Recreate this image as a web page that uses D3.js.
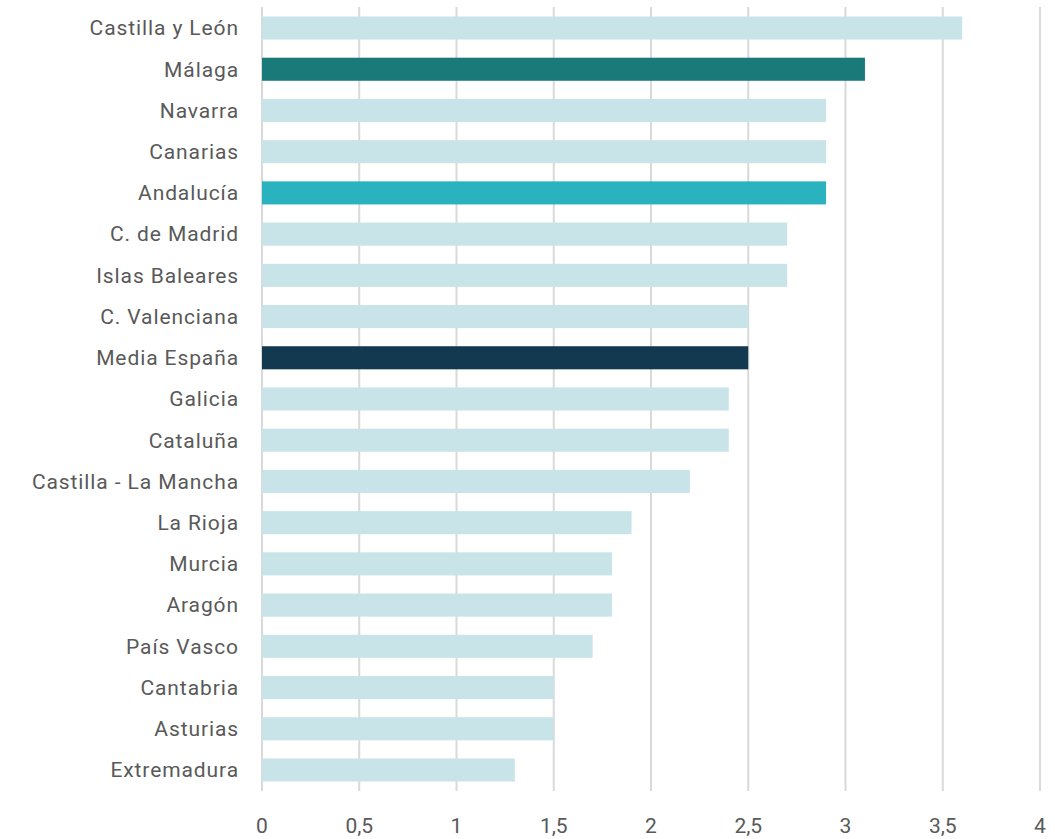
<!DOCTYPE html>
<html><head><meta charset="utf-8">
<script src="https://cdn.jsdelivr.net/npm/d3@7"></script>
<style>body{margin:0;background:#fff;} text{font-family:Roboto,"Noto Sans",sans-serif;}</style>
</head><body><svg id="c" width="1055" height="839"></svg>
<script>
const categories = ["Castilla y León","Málaga","Navarra","Canarias","Andalucía","C. de Madrid","Islas Baleares","C. Valenciana","Media España","Galicia","Cataluña","Castilla - La Mancha","La Rioja","Murcia","Aragón","País Vasco","Cantabria","Asturias","Extremadura"];
const values = [3.6,3.1,2.9,2.9,2.9,2.7,2.7,2.5,2.5,2.4,2.4,2.2,1.9,1.8,1.8,1.7,1.5,1.5,1.3];
const tickValues = [0,0.5,1,1.5,2,2.5,3,3.5,4];
const highlight = {"Málaga":"#1a7a7a","Andalucía":"#2ab3be","Media España":"#12394f"};
const baseColor = "#c9e4e9";

const svg = d3.select("#c");
const x = d3.scaleLinear().domain([0,4]).range([262,1040]);
const y = d3.scaleBand().domain(categories).range([7.4,790.6]).paddingInner(0.44).paddingOuter(0.22);

// gridlines
svg.append("g").selectAll("line").data(tickValues).join("line")
  .attr("x1",d=>x(d)).attr("x2",d=>x(d)).attr("y1",7).attr("y2",791)
  .attr("stroke","#d9d9d9").attr("stroke-width",2);

// bars
svg.append("g").selectAll("rect").data(categories).join("rect")
  .attr("x",x(0)).attr("y",d=>y(d)).attr("height",y.bandwidth())
  .attr("width",(d,i)=>x(values[i])-x(0))
  .attr("fill",d=>highlight[d]||baseColor);

// category labels
svg.append("g").selectAll("text").data(categories).join("text")
  .attr("x",239).attr("y",d=>y(d)+y.bandwidth()/2).attr("dy","0.35em")
  .attr("text-anchor","end").attr("font-size",21).attr("letter-spacing","0.9px")
  .attr("fill","#595959").text(d=>d);

// x axis labels
const fmt = d => String(d).replace(".",",");
svg.append("g").selectAll("text").data(tickValues).join("text")
  .attr("x",d=>x(d)).attr("y",826).attr("dy","0.35em").attr("text-anchor","middle")
  .attr("font-size",21).attr("fill","#595959").text(fmt);
</script></body></html>
